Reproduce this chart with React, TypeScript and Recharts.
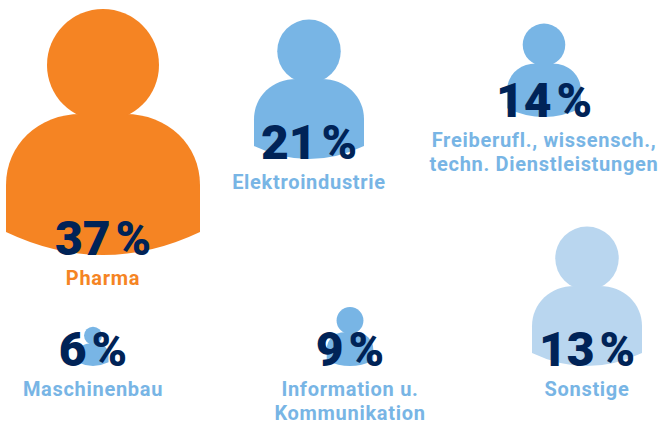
import React from 'react';
import { ScatterChart, Scatter, XAxis, YAxis } from 'recharts';

const categories: string[][] = [
  ['Pharma'],
  ['Elektroindustrie'],
  ['Freiberufl., wissensch.,', 'techn. Dienstleistungen'],
  ['Maschinenbau'],
  ['Information u.', 'Kommunikation'],
  ['Sonstige'],
];
const values = [37, 21, 14, 6, 9, 13];

// layout of the pictogram (page pixels, fed through the axes)
const slotX = [103, 309, 544, 93, 350, 587];
const slotY = [255, 159, 117, 366, 366, 366];
const figureScale = [1, 0.567, 0.38, 0.16, 0.24, 0.567];
const figureFill = ['#F58423', '#78B5E5', '#78B5E5', '#78B5E5', '#78B5E5', '#B9D6EF'];
const labelFill = ['#F58423', '#78B5E5', '#78B5E5', '#78B5E5', '#78B5E5', '#78B5E5'];

const NAVY = '#002357';
const FONT = 'Roboto, sans-serif';

const rows = categories.map((lines, i) => ({
  lines,
  value: values[i],
  x: slotX[i],
  y: slotY[i],
  scale: figureScale[i],
  fill: figureFill[i],
  labelFill: labelFill[i],
}));

const BODY =
  'M-97,-23 L-97,-70 C-97,-110 -65,-141 -22,-141 L22,-141 C65,-141 97,-110 97,-70 L97,-23 Q0,23 -97,-23 Z';

function Figure(props: any) {
  const { cx, cy, payload } = props;
  const { scale, fill, value, lines } = payload;
  return (
    <g>
      <g transform={`translate(${cx},${cy}) scale(${scale})`}>
        <circle cx={0} cy={-190} r={56} fill={fill} />
        <path d={BODY} fill={fill} />
      </g>
      <text
        x={cx}
        y={cy}
        textAnchor="middle"
        fontFamily={FONT}
        fontWeight={900}
        fontSize={48}
        fill={NAVY}
      >
        {`${value}\u200a%`}
      </text>
      {lines.map((line: string, i: number) => (
        <text
          key={line}
          x={cx}
          y={cy + 30 + i * 24}
          textAnchor="middle"
          fontFamily={FONT}
          fontWeight={700}
          fontSize={20}
          letterSpacing={0.7}
          fill={payload.labelFill}
        >
          {line}
        </text>
      ))}
    </g>
  );
}

export default function App() {
  return (
    <div style={{ position: 'absolute', left: 0, top: 0, width: 660, height: 421, background: '#fff' }}>
      <ScatterChart width={660} height={421} margin={{ top: 0, right: 0, bottom: 0, left: 0 }}>
        <XAxis type="number" dataKey="x" domain={[0, 660]} hide />
        <YAxis type="number" dataKey="y" domain={[0, 421]} reversed hide />
        <Scatter data={rows} shape={Figure} isAnimationActive={false} />
      </ScatterChart>
    </div>
  );
}
